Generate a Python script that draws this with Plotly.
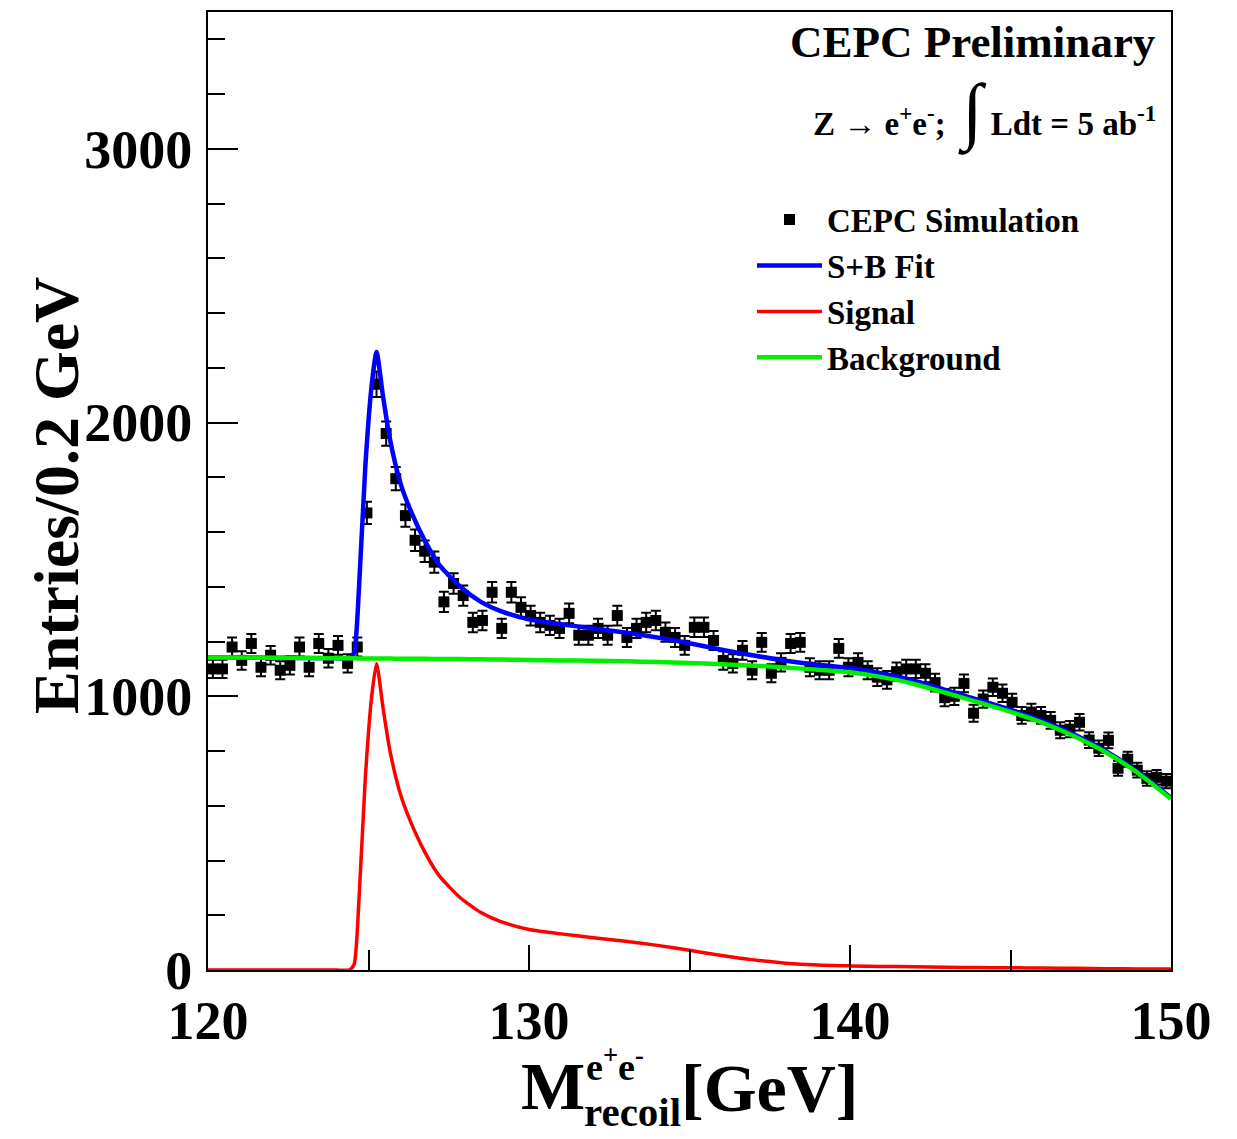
import numpy as np
import plotly.graph_objects as go

# ---------------- data ----------------
bin_centers = [round(120.15 + 0.3 * i, 2) for i in range(100)]
entries = [
    1100, 1100, 1180, 1131, 1193, 1106, 1150, 1095, 1113, 1180,
    1106, 1193, 1139, 1186, 1120, 1180, 1670, 2140, 1960, 1795,
    1660, 1570, 1530, 1490, 1345, 1412, 1368, 1270, 1277, 1380,
    1248, 1380, 1325, 1295, 1270, 1259, 1248, 1303, 1223, 1223,
    1248, 1223, 1295, 1215, 1248, 1270, 1277, 1234, 1215, 1186,
    1252, 1252, 1204, 1131, 1120, 1168, 1095, 1197, 1084, 1124,
    1193, 1197, 1106, 1095, 1095, 1175, 1106, 1124, 1095, 1070,
    1060, 1090, 1100, 1100, 1084, 1050, 995, 1000, 1047, 938,
    990, 1033, 1011, 978, 930, 942, 930, 912, 876, 880,
    905, 840, 810, 839, 737, 770, 730, 700, 704, 690,
]
entry_errors = np.sqrt(np.array(entries, dtype=float))

curve_x = [120, 122, 124, 124.4, 124.55, 124.7, 124.9, 125.1, 125.25, 125.45,
           125.67, 126.0, 126.3, 126.76, 127.2, 127.85, 128.5, 129.1, 130, 131,
           132, 133, 134, 135, 136, 137, 138, 139, 140, 141,
           142, 143, 144, 145, 146, 147, 148, 149, 150]
signal_y = [0, 0, 0, 0, 20, 250, 700, 1000, 1120, 960,
            800, 640, 545, 430, 345, 265, 210, 178, 148, 132,
            118, 105, 90, 72, 53, 37, 25, 18, 15, 13,
            12, 10, 9, 8, 7, 6, 5, 4, 4]
background_y = [1142, 1141, 1139, 1139, 1139, 1138, 1138, 1138, 1138, 1138,
                1138, 1137, 1137, 1137, 1136, 1136, 1135, 1134, 1133, 1131,
                1130, 1128, 1125, 1122, 1117, 1112, 1105, 1097, 1088, 1070,
                1045, 1012, 978, 943, 903, 853, 793, 717, 625]
fit_y = [1142, 1141, 1139, 1139, 1159, 1388, 1838, 2138, 2258, 2098,
         1938, 1777, 1682, 1567, 1481, 1401, 1345, 1312, 1281, 1263,
         1248, 1233, 1215, 1194, 1170, 1149, 1130, 1115, 1103, 1083,
         1057, 1022, 987, 951, 910, 859, 798, 721, 629]

x_tick_vals = [120, 130, 140, 150]
y_tick_vals = [0, 1000, 2000, 3000]

# ---------------- figure ----------------
FONT = "Liberation Serif"
W, H = 1237, 1139
L, R, T, B = 208, 66, 10, 169
PW, PH = W - L - R, H - T - B


def px(xp):
    return (xp - L) / PW


def py(yp):
    return (H - B - yp) / PH


fig = go.Figure()

fig.add_trace(go.Scatter(
    x=bin_centers, y=entries, mode="markers", name="CEPC Simulation",
    marker=dict(symbol="square", size=11, color="black"),
    error_y=dict(type="data", array=entry_errors, color="black", thickness=2, width=5),
))
fig.add_trace(go.Scatter(
    x=curve_x, y=fit_y, mode="lines", name="S+B Fit",
    line=dict(color="#0000ff", width=4.5, shape="spline", smoothing=0.6),
))
fig.add_trace(go.Scatter(
    x=curve_x, y=signal_y, mode="lines", name="Signal",
    line=dict(color="#ff0000", width=3.5, shape="spline", smoothing=0.6),
))
fig.add_trace(go.Scatter(
    x=curve_x, y=background_y, mode="lines", name="Background",
    line=dict(color="#00ee00", width=4.5, shape="spline", smoothing=0.6),
))

axis_common = dict(
    showgrid=False, zeroline=False, showline=True, linecolor="black",
    linewidth=2, mirror=True, ticks="inside", tickcolor="black", tickwidth=2,
    tickfont=dict(family=FONT, size=54, color="black", weight="bold"),
)

fig.update_layout(
    width=W, height=H,
    margin=dict(l=L, r=R, t=T, b=B),
    paper_bgcolor="white", plot_bgcolor="white",
    xaxis=dict(range=[120, 150], tickvals=x_tick_vals, ticklen=25,
               ticklabelstandoff=2,
               minor=dict(dtick=5, tick0=120, ticklen=20, ticks="inside",
                          tickcolor="black", tickwidth=2),
               **axis_common),
    yaxis=dict(range=[0, 3500], tickvals=y_tick_vals, ticklen=30,
               ticklabelstandoff=3,
               minor=dict(dtick=200, tick0=0, ticklen=17, ticks="inside",
                          tickcolor="black", tickwidth=2),
               **axis_common),
    showlegend=True,
    legend=dict(
        x=px(752), y=py(190), xanchor="left", yanchor="top",
        bgcolor="rgba(0,0,0,0)", borderwidth=0,
        font=dict(family=FONT, size=33, color="black", weight="bold"),
        itemwidth=65, tracegroupgap=0,
    ),
)

annotations = [
    dict(text="<b>CEPC Preliminary</b>", x=px(1158), y=py(40),
         xanchor="right", yanchor="middle",
         font=dict(family=FONT, size=45, color="black")),
    dict(text="<b>Z → e<sup>+</sup>e<sup>-</sup>;  "
              "<span style='font-size:74px'>∫</span> Ldt = 5 ab<sup>-1</sup></b>",
         x=px(1158), y=py(110), xanchor="right", yanchor="middle",
         font=dict(family=FONT, size=33, color="black")),
    dict(text="<b>Entries/0.2 GeV</b>", x=px(57), y=py(495), textangle=-90,
         xanchor="center", yanchor="middle",
         font=dict(family=FONT, size=64, color="black")),
    dict(text="<b>M</b>", x=px(519), y=py(1086), xanchor="left", yanchor="middle",
         font=dict(family=FONT, size=68, color="black")),
    dict(text="<b>e<sup>+</sup>e<sup>-</sup></b>", x=px(584), y=py(1064),
         xanchor="left", yanchor="middle",
         font=dict(family=FONT, size=38, color="black")),
    dict(text="<b>recoil</b>", x=px(582), y=py(1112), xanchor="left", yanchor="middle",
         font=dict(family=FONT, size=41, color="black")),
    dict(text="<b>[GeV]</b>", x=px(679), y=py(1088), xanchor="left", yanchor="middle",
         font=dict(family=FONT, size=68, color="black")),
]
for a in annotations:
    a.update(xref="paper", yref="paper", showarrow=False)
fig.update_layout(annotations=annotations)

fig.write_html("out.html")
